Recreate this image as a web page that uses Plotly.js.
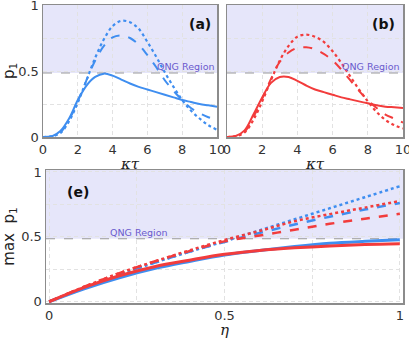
<!DOCTYPE html>
<html><head><meta charset="utf-8">
<script src="https://cdn.plot.ly/plotly-3.0.1.min.js"></script>
<style>html,body{margin:0;padding:0;background:#fff}#chart{width:409px;height:339px}</style>
</head><body><div id="chart"></div>
<script>
// Top panels: kappa*tau axis
const kt = [0,0.5,1,1.5,2,2.5,3,3.5,4,4.5,5,5.5,6,6.5,7,7.5,8,8.5,9,9.5,10];
const aSolid  = [0,0.005,0.045,0.14,0.28,0.39,0.455,0.48,0.465,0.435,0.405,0.38,0.36,0.34,0.32,0.30,0.28,0.265,0.25,0.24,0.23];
const aDashed = [0,0.005,0.035,0.13,0.27,0.43,0.58,0.69,0.755,0.77,0.75,0.70,0.62,0.53,0.43,0.35,0.28,0.22,0.18,0.15,0.13];
const aDotted = [0,0.005,0.03,0.12,0.26,0.43,0.60,0.74,0.84,0.88,0.87,0.82,0.72,0.61,0.49,0.38,0.28,0.20,0.14,0.09,0.055];
const bSolid  = [0,0.008,0.05,0.17,0.30,0.41,0.455,0.455,0.425,0.39,0.36,0.34,0.32,0.30,0.285,0.27,0.255,0.24,0.23,0.225,0.22];
const bDashed = [0,0.006,0.04,0.15,0.29,0.44,0.57,0.64,0.675,0.68,0.665,0.63,0.58,0.51,0.43,0.35,0.28,0.22,0.17,0.14,0.11];
const bDotted = [0,0.005,0.035,0.13,0.27,0.43,0.58,0.69,0.76,0.775,0.76,0.72,0.65,0.56,0.46,0.36,0.27,0.19,0.13,0.09,0.065];
// Bottom panel: eta axis
const eta = [0,0.1,0.2,0.3,0.4,0.5,0.6,0.7,0.8,0.9,1];
const eBlueSolid  = [0,0.10,0.185,0.255,0.31,0.36,0.395,0.425,0.45,0.465,0.477];
const eRedSolid   = [0,0.11,0.20,0.27,0.32,0.365,0.395,0.415,0.43,0.44,0.446];
const eBlueDashed = [0,0.11,0.21,0.30,0.385,0.46,0.53,0.595,0.655,0.71,0.76];
const eBlueDotted = [0,0.105,0.205,0.30,0.385,0.465,0.55,0.635,0.72,0.805,0.89];
const eRedDotted  = [0,0.115,0.22,0.31,0.395,0.475,0.545,0.62,0.675,0.725,0.776];
const eRedDashed  = [0,0.115,0.22,0.31,0.39,0.465,0.51,0.555,0.60,0.64,0.678];
const qng = 0.485;
const ticksTopX = [0,2,4,6,8,10];
const ticksY = [0,0.25,0.5,0.75,1];
const ticksYText = ['0','','0.5','','1'];
const ticksEX = [0,0.25,0.5,0.75,1];
const ticksEXText = ['0','','0.5','','1'];

const BLUE = '#3f8ef0', RED = '#f23c3c';
function tr(x, y, color, dash, w, xa, ya){
  return {x:x, y:y, xaxis:xa, yaxis:ya, type:'scatter', mode:'lines',
    line:{color:color, dash:dash, width:w, shape:'spline', smoothing:1}, hoverinfo:'skip', showlegend:false};
}
const data = [
  tr(kt,aSolid,BLUE,'solid',2,'x','y'),
  tr(kt,aDashed,BLUE,'dash',2,'x','y'),
  tr(kt,aDotted,BLUE,'dot',2.2,'x','y'),
  tr(kt,bSolid,RED,'solid',2,'x2','y2'),
  tr(kt,bDashed,RED,'dash',2,'x2','y2'),
  tr(kt,bDotted,RED,'dot',2.2,'x2','y2'),
  tr(eta,eBlueDotted,BLUE,'dot',2.5,'x3','y3'),
  tr(eta,eBlueDashed,BLUE,'dash',2.5,'x3','y3'),
  tr(eta,eBlueSolid,BLUE,'solid',3,'x3','y3'),
  tr(eta,eRedDotted,RED,'dot',2.5,'x3','y3'),
  tr(eta,eRedDashed,RED,'dash',2.5,'x3','y3'),
  tr(eta,eRedSolid,RED,'solid',3,'x3','y3')
];
const W=409, H=339;
const tickFont = {family:'DejaVu Sans', size:13, color:'#333'};
const gridC = '#e2e2e2';
function xax(dom, range, tv, tt, anchor, title, standoff){
  return {domain:dom, range:range, anchor:anchor, tickvals:tv, ticktext:tt, tickfont:tickFont,
    ticklabeloverflow:'allow',
    showgrid:true, gridcolor:gridC, griddash:'4px,3px', gridwidth:1, zeroline:false,
    showline:true, mirror:true, linecolor:'#8c8c8c', linewidth:1.5, ticks:'', fixedrange:true,
    title:{text:title, font:{family:'DejaVu Serif', size:15, color:'#222'}, standoff:standoff}};
}
function yax(dom, range, showLabels, anchor, title, standoff){
  return {domain:dom, range:range, anchor:anchor, tickvals:ticksY, ticktext:showLabels?ticksYText:['','','','',''],
    tickfont:tickFont, ticklabeloverflow:'allow',
    showgrid:true, gridcolor:gridC, griddash:'4px,3px', gridwidth:1, zeroline:false,
    showline:true, mirror:true, linecolor:'#8c8c8c', linewidth:1.5, ticks:'', fixedrange:true,
    title:{text:title, font:{family:'DejaVu Sans', size:15, color:'#222'}, standoff:standoff}};
}
const topY = [1-137/H, 1-5/H];
const eY = [1-303/H, 1-170/H];
const layout = {
  width:W, height:H, margin:{l:0,r:0,t:0,b:0}, paper_bgcolor:'#fff', plot_bgcolor:'#fff',
  showlegend:false,
  xaxis: xax([43/W,217/W],[0,10],ticksTopX,ticksTopX.map(String),'y','<i>κτ</i>',2),
  yaxis: yax(topY,[0,1],true,'x','p<sub>1</sub>',6),
  xaxis2: xax([227/W,403/W],[0,10],ticksTopX,ticksTopX.map(String),'y2','<i>κτ</i>',2),
  yaxis2: yax(topY,[0,1],false,'x2','',0),
  xaxis3: xax([46/W,403/W],[-0.009,1.009],ticksEX,ticksEXText,'y3','<i>η</i>',1),
  yaxis3: yax(eY,[-0.01,1.015],true,'x3','max  p<sub>1</sub>',8),
  shapes: [],
  annotations: []
};
[['x','y',1],['x2','y2',1],['x3','y3',1.015]].forEach(([xa,ya,top])=>{
  layout.shapes.push({type:'rect', xref:xa+' domain', yref:ya, x0:0, x1:1, y0:qng, y1:top,
    fillcolor:'#e6e6fa', line:{width:0}, layer:'below'});
  layout.shapes.push({type:'line', xref:xa+' domain', yref:ya, x0:0, x1:1, y0:qng, y1:qng,
    line:{color:'#999', width:1.2, dash:'dash'}, layer:'below'});
});
const qFont = {family:'DejaVu Sans', size:9.5, color:'#6a5acd'};
layout.annotations.push(
  {text:'QNG Region', xref:'paper', yref:'y', x:217/W, y:qng, xanchor:'right', yanchor:'bottom', showarrow:false, font:qFont, yshift:-1},
  {text:'QNG Region', xref:'paper', yref:'y2', x:402/W, y:qng, xanchor:'right', yanchor:'bottom', showarrow:false, font:qFont, yshift:-1},
  {text:'QNG Region', xref:'paper', yref:'y3', x:108/W, y:qng, xanchor:'left', yanchor:'bottom', showarrow:false, font:qFont, yshift:-1},
  {text:'<b>(a)</b>', xref:'paper', yref:'paper', x:200/W, y:1-24/H, xanchor:'center', yanchor:'middle', showarrow:false, font:{family:'DejaVu Sans', size:14, color:'#111'}},
  {text:'<b>(b)</b>', xref:'paper', yref:'paper', x:383/W, y:1-24/H, xanchor:'center', yanchor:'middle', showarrow:false, font:{family:'DejaVu Sans', size:14, color:'#111'}},
  {text:'<b>(e)</b>', xref:'paper', yref:'paper', x:78/W, y:1-192/H, xanchor:'center', yanchor:'middle', showarrow:false, font:{family:'DejaVu Sans', size:14, color:'#111'}}
);
Plotly.newPlot('chart', data, layout, {staticPlot:true, displayModeBar:false});
</script></body></html>
